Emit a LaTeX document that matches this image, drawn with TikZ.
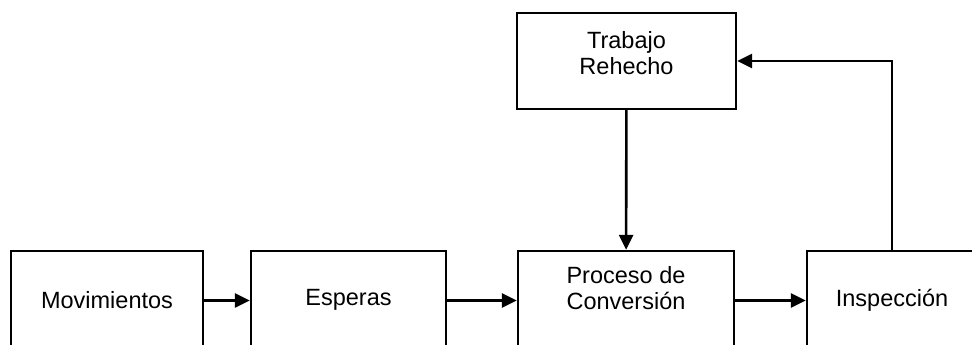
\documentclass[tikz,border=0pt]{standalone}
\usepackage{fontspec}
\setmainfont{Liberation Sans}
\usetikzlibrary{arrows.meta}
\begin{document}
\begin{tikzpicture}[x=1pt,y=-1pt,
  blk/.style={draw=black,line width=2.3pt,rectangle,inner sep=0pt,minimum height=99pt},
  lbl/.style={align=center,inner sep=0pt,font=\fontsize{23.5}{26}\selectfont},
  flow/.style={line width=2.6pt,-{Triangle[length=15pt,width=14pt]}}]
\useasboundingbox (0,0) rectangle (972,345);
\clip (0,0) rectangle (972,345);
% boxes of the main line (running past the lower edge)
\node[blk,minimum width=192pt] (mov) at (107,300.5) {};
\node[blk,minimum width=195pt] (esp) at (348.5,300.5) {};
\node[blk,minimum width=216pt] (pro) at (626,300.5) {};
\node[blk,minimum width=190pt] (ins) at (902,300.5) {};
% rework box
\node[blk,minimum width=219pt,minimum height=96pt] (tra) at (626.5,61) {};
% labels
\node[lbl] (tmov) at (107,300) {Movimientos};
\node[lbl] (tesp) at (348.5,300) {Esperas};
\node[lbl] (tpro) at (626,288) {Proceso de\\Conversión};
\node[lbl] (tins) at (892,300) {Inspección};
\node[lbl] (ttra) at (626.5,53) {Trabajo\\Rehecho};
% connectors
\draw[flow] (mov) -- (esp);
\draw[flow] (esp) -- (pro);
\draw[flow] (pro) -- (ins);
\draw[flow] (tra) -- (pro);
\draw[flow] (tins |- ins.north) |- (tra.east);
\end{tikzpicture}
\end{document}
